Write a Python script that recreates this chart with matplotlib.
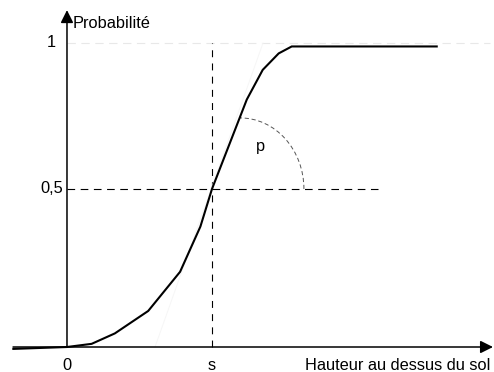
import matplotlib
matplotlib.use("Agg")
import matplotlib.pyplot as plt
from matplotlib.patches import Arc

plt.rcParams['font.family'] = ['Liberation Sans', 'DejaVu Sans']
plt.rcParams['lines.scale_dashes'] = False

# hauteur (unite: s = 1) et probabilite
hauteur = [-0.37, 0.0, 0.17, 0.33, 0.56, 0.78, 0.92, 1.0, 1.24, 1.35, 1.46, 1.55, 2.55]
proba = [-0.006, 0.0, 0.01, 0.043, 0.114, 0.238, 0.381, 0.5, 0.783, 0.877, 0.929, 0.951, 0.951]

# tangente au point s (tres pale)
tangente_x = [0.607, 1.352]
tangente_y = [0.0, 0.962]

s_pos = 1.0
niveau_demi = 0.5
niveau_un = 0.962
y_ticks = [niveau_demi, niveau_un]
y_labels = ["0,5", "1"]
x_ticks = [0.0, s_pos]
x_labels = ["0", "s"]

fig = plt.figure(figsize=(4.94, 3.72), dpi=100)
ax = fig.add_axes([0, 0, 1, 1])
ax.set_xlim(-0.462, 2.945)
ax.set_ylim(-0.0791, 1.098)
ax.axis('off')

fs = 11.8

# axes avec fleches
ax.annotate('', xy=(2.938, 0), xytext=(-0.372, 0),
            arrowprops=dict(arrowstyle='-|>', color='k', lw=1.1, mutation_scale=19,
                            shrinkA=0, shrinkB=0))
ax.annotate('', xy=(0, 1.066), xytext=(0, 0),
            arrowprops=dict(arrowstyle='-|>', color='k', lw=1.1, mutation_scale=19,
                            shrinkA=0, shrinkB=0))

# lignes pointillees
ax.plot([0, 2.917], [niveau_un, niveau_un], color='#e8e8e8', lw=0.8, dashes=(6, 4))
ax.plot([s_pos, s_pos], [0, niveau_un], color='k', lw=0.8, dashes=(5, 4.5))
ax.plot([0, 2.145], [niveau_demi, niveau_demi], color='k', lw=0.8, dashes=(5.5, 4))

ax.plot(tangente_x, tangente_y, color='#f6f6f6', lw=0.7)

# courbe
ax.plot(hauteur, proba, color='k', lw=1.5, solid_joinstyle='miter')

# angle p
arc = Arc((1.193, niveau_demi), 2 * 0.441, 2 * 0.225, theta1=0, theta2=90,
          color='#555555', lw=0.7, linestyle=(0, (3, 2)))
ax.add_patch(arc)
ax.text(1.335, 0.634, "p", fontsize=fs, ha='center', va='center')

# textes
ax.text(0.041, 1.025, "Probabilité", fontsize=fs, ha='left', va='center')
for yt, lab in zip(y_ticks, y_labels):
    ax.text(-0.107, yt, lab, fontsize=fs, ha='center', va='center')
for xt, lab in zip(x_ticks, x_labels):
    ax.text(xt, -0.057, lab, fontsize=fs, ha='center', va='center')
ax.text(1.641, -0.057, "Hauteur au dessus du sol", fontsize=fs, ha='left', va='center')

fig.savefig("out.png", dpi=100)
